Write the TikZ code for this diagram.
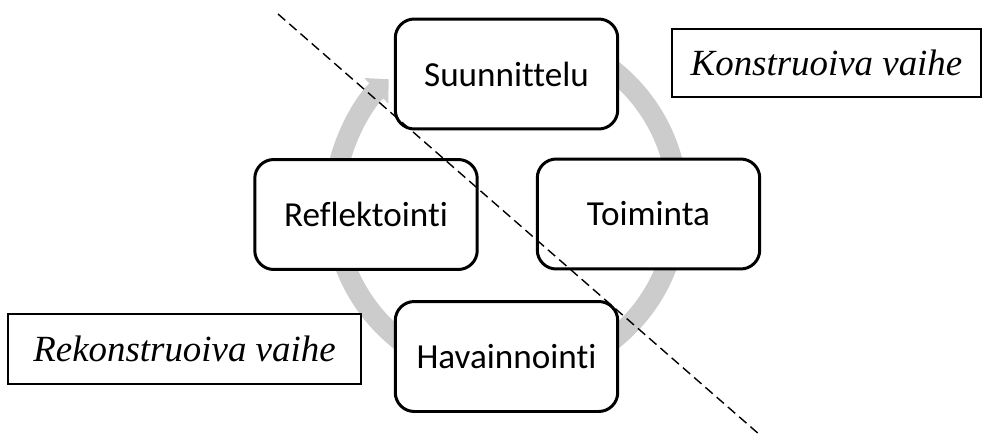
\documentclass[tikz,border=0pt]{standalone}
\usepackage{fontspec}
\usepackage{tikz}
\usetikzlibrary{positioning, arrows.meta}
\newfontfamily\boxfont[Ligatures=CommonOff]{Carlito}
\newfontfamily\phasefont{Liberation Serif}
\definecolor{ringgray}{RGB}{204,204,204}

\begin{document}
\begin{tikzpicture}[x=0.02cm, y=0.02cm,
        stage/.style={rectangle, draw, line width=1.7pt, rounded corners=0.38cm, fill=white, minimum width=4.45cm, minimum height=2.2cm, font=\boxfont\fontsize{20}{24}\selectfont},
        phase/.style={rectangle, draw, line width=0.8pt, fill=white, inner sep=0pt, font=\phasefont\itshape\fontsize{21}{25}\selectfont}]
    \useasboundingbox (0, 0) rectangle (983, -436);

    % kehä ja nuoli
    \coordinate (o) at (506, -205);
    \draw[ringgray, line width=0.41cm, -{Triangle[width=0.68cm, length=0.34cm]}] ([shift={(75:3.44cm)}]o) arc[start angle=75, end angle=-227, radius=3.44cm];

    \node[stage] (suun) at (506.5, -74) {Suunnittelu};
    \node[stage] (toim) at (648.5, -214) {Toiminta};
    \node[stage] (refl) at (366, -214.5) {Reflektointi};
    \node[stage] (hava) at (506.5, -356.5) {Havainnointi};

    \node[phase, minimum width=6.18cm, minimum height=1.36cm] (kons) at (826.5, -63) {Konstruoiva vaihe};
    \node[phase, minimum width=7.06cm, minimum height=1.4cm] (rekons) at (184.5, -349) {Rekonstruoiva vaihe};

    % jakoviiva
    \coordinate (cutA) at (278, -14);
    \coordinate (cutB) at (760, -435);
    \draw[line width=0.8pt, dash pattern=on 5.5pt off 3pt] (cutA) -- (cutB);
\end{tikzpicture}
\end{document}
